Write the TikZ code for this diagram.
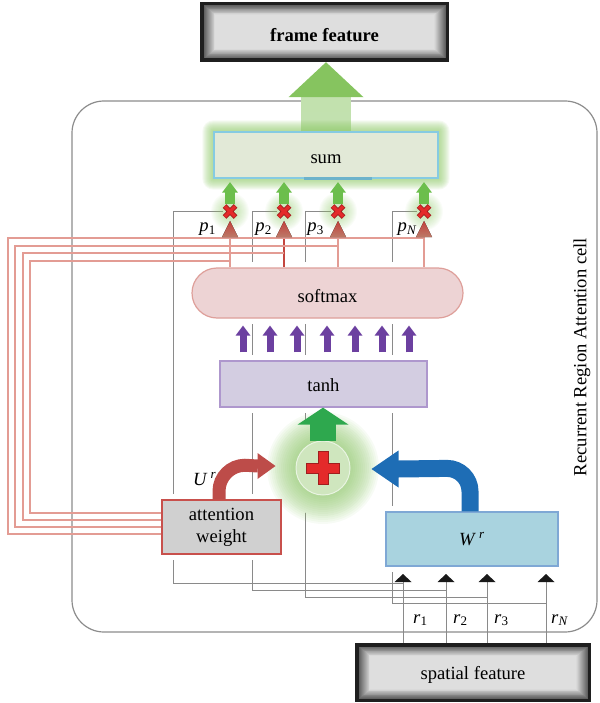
\documentclass[tikz,border=0pt]{standalone}
\usepackage{fontspec}
\setmainfont{Liberation Serif}
\usetikzlibrary{calc}

\pgfdeclarelayer{lines}
\pgfdeclarelayer{halo}
\pgfdeclarelayer{glow}
\pgfsetlayers{lines,halo,glow,main}

\definecolor{cellgray}{HTML}{8C8C8C}
\definecolor{linegray}{HTML}{8A8A8A}
\definecolor{pinkc}{HTML}{E39C94}
\definecolor{pinkdark}{HTML}{C4463F}
\definecolor{sumfill}{HTML}{E2E9D7}
\definecolor{sumedge}{HTML}{86CBE2}
\definecolor{sumstub}{HTML}{6DB3CB}
\definecolor{glowgreen}{HTML}{8CC865}
\definecolor{softfill}{HTML}{EDD3D4}
\definecolor{softedge}{HTML}{DE9F9A}
\definecolor{tanhfill}{HTML}{D3CDE1}
\definecolor{tanhedge}{HTML}{AE97CD}
\definecolor{violetarr}{HTML}{6C40A0}
\definecolor{addgreen}{HTML}{2EA84E}
\definecolor{headgreen}{HTML}{86C45F}
\definecolor{smallgreen}{HTML}{6CBE4C}
\definecolor{crossred}{HTML}{E42A2A}
\definecolor{crossdark}{HTML}{A01E1E}
\definecolor{uarrowc}{HTML}{BD4C49}
\definecolor{warrowc}{HTML}{1E6DB5}
\definecolor{wfill}{HTML}{A9D3DF}
\definecolor{wedge}{HTML}{7FA8D5}
\definecolor{awfill}{HTML}{D0D0D0}
\definecolor{awedge}{HTML}{C8504C}
\definecolor{plusfill}{HTML}{CFE6BE}
\definecolor{tritop}{HTML}{C2403B}
\definecolor{tribot}{HTML}{BC7A68}

% metallic button: dark rim, graded bevel, light inner panel
\newcommand\bevelpanel[4]{%
  \fill[black!88] (#1,#2) rectangle (#3,#4);
  \foreach \k in {0,...,10}{%
    \pgfmathsetmacro\gv{62-4.4*\k}%
    \fill[black!\gv] ({#1+3.5+\k},{#2+3.5+0.8*\k}) rectangle ({#3-3.5-\k},{#4-3.5-0.8*\k});
  }%
  \fill[black!13] ({#1+14.5},{#2+12.5}) rectangle ({#3-14.5},{#4-12.5});
  \draw[white!85!black, line width=0.8pt] ({#1+14.5},{#2+12.5}) rectangle ({#3-14.5},{#4-12.5});
}
% text placed with its baseline a given distance below the node centre
\newcommand\lowtext[2]{\raisebox{-#1}[0pt][0pt]{#2}}

\tikzset{
  txt/.style={font=\fontsize{18.6}{22}\selectfont, inner sep=0pt},
  panelbox/.style={txt, draw, line width=1.2pt},
  sumbox/.style={panelbox, draw=sumedge, fill=sumfill, line width=1.3pt, minimum width=224pt, minimum height=46pt},
  softbox/.style={panelbox, draw=softedge, fill=softfill, rounded corners=25pt, minimum width=271pt, minimum height=50pt},
  tanhbox/.style={panelbox, draw=tanhedge, fill=tanhfill, minimum width=207pt, minimum height=46pt},
  awbox/.style={panelbox, draw=awedge, fill=awfill, line width=1.5pt, minimum width=119pt, minimum height=54pt, align=center},
  wbox/.style={panelbox, draw=wedge, fill=wfill, minimum width=172pt, minimum height=54pt},
  plusnode/.style={circle, fill=plusfill, draw=white!55!plusfill, line width=1pt, minimum size=54pt, inner sep=0pt},
  multnode/.style={circle, minimum size=14pt, inner sep=0pt},
  grayline/.style={draw=linegray, line width=1pt},
  cellline/.style={draw=cellgray, line width=1.2pt},
  pinkline/.style={draw=pinkc, line width=1.1pt},
  sublabel/.style={txt},
}

\begin{document}
\begin{tikzpicture}[x=1pt,y=-1pt]
\useasboundingbox (0,0) rectangle (599,703);

% ---------- buttons outside the cell
\bevelpanel{200}{2}{449}{62}
\node[txt, font=\fontsize{18.6}{22}\selectfont\bfseries, minimum width=249pt, minimum height=60pt] (frame) at (324.5,32) {\lowtext{9.5pt}{frame feature}};
\bevelpanel{355}{643}{591}{702}
\node[txt, minimum width=236pt, minimum height=59pt] (spatial) at (473,672.5) {\lowtext{7pt}{spatial feature}};

% ---------- blocks of the cell
\node[sumbox] (sum) at (326,155) {\lowtext{9pt}{sum}};
\node[softbox] (softmax) at (327.5,293) {\lowtext{9.5pt}{softmax}};
\node[tanhbox] (tanh) at (323.5,384) {\lowtext{7.5pt}{tanh}};
\node[plusnode] (plus) at (323,468) {};
\node[awbox] (attw) at (221.5,527) {attention\\weight};
\node[wbox] (wr) at (472,539) {\textit{W}\,\textsuperscript{\textit{r}}};
\node[txt, rotate=90] (celltitle) at (582,357) {Recurrent Region Attention cell};

% column positions
\foreach \i/\x in {1/230,2/284,3/338,4/424}{%
  \node[multnode] (m\i) at (\x,211.5) {};
  \coordinate (pcol\i) at (\x,0);
  \coordinate (tt\i) at (\x,221);
  \coordinate (tb\i) at (\x,237);
}
\foreach \i/\x in {1/173,2/252,3/305,4/392}{\coordinate (gcol\i) at (\x,0);}
\foreach \i/\x in {1/403,2/446,3/487,4/546}{\coordinate (rcol\i) at (\x,0);}
\foreach \i/\y in {1/583,2/590,3/597,4/603}{\coordinate (lev\i) at (0,\y);}
\coordinate (rtop) at (0,574);

% ---------- background wiring
\begin{pgfonlayer}{lines}
  \draw[cellline, rounded corners=32pt] (72,101) rectangle (597,632);
  \foreach \i in {1,...,4}{%
    \draw[grayline] (m\i.west) -| (gcol\i |- lev\i) -- (rcol\i |- lev\i);
  }
\end{pgfonlayer}

% white gaps where wires pass behind blocks
\begin{pgfonlayer}{halo}
  \foreach \n in {softmax,tanh,attw,wr}{%
    \fill[white] ($(\n.south west)+(-5,5)$) rectangle ($(\n.north east)+(5,-5)$);
  }
  \fill[white] (plus) circle (48pt);
\end{pgfonlayer}

% soft green glows
\begin{pgfonlayer}{glow}
  \foreach \k in {1,...,11}{%
    \fill[glowgreen, opacity=0.085, rounded corners=\k pt] ($(sum.south west)+(-\k,\k)$) rectangle ($(sum.north east)+(\k,-\k)$);
  }
  \foreach \r in {28,30,...,56}{\fill[glowgreen, opacity=0.065] (plus) circle (\r pt);}
  \foreach \i in {1,...,4}{%
    \foreach \r in {8,...,19}{\fill[glowgreen, opacity=0.045] (m\i) circle (\r pt);}
  }
\end{pgfonlayer}

% ---------- sum -> frame feature
\coordinate (bigtip) at (sum.north |- frame.south);
\draw[white, line width=50pt] ($(bigtip)+(0,35)$) -- ($(bigtip)+(0,50)$);
\draw[headgreen, opacity=0.5, line width=50pt] (sum.north) -- ($(bigtip)+(0,35)$);
\fill[headgreen] (bigtip) -- ($(bigtip)+(37.5,35)$) -- ($(bigtip)+(-37.5,35)$) -- cycle;
\draw[sumstub, line width=2.4pt] ($(sum.south)+(-22,0)$) -- ($(sum.south)+(46,0)$);

% ---------- weighting units p_i * r_i
\foreach \i in {1,...,4}{%
  \coordinate (gt\i) at ($(m\i.north |- sum.south)+(0,3.5)$);
  \draw[smallgreen, line width=9.5pt] (m\i.north) -- ($(gt\i)+(0,10.1)$);
  \fill[smallgreen] (gt\i) -- ($(gt\i)+(8,10.5)$) -- ($(gt\i)+(-8,10.5)$) -- cycle;
  \draw[crossdark, line width=5pt] ($(m\i)+(-5.5,-5.5)$) -- ($(m\i)+(5.5,5.5)$) ($(m\i)+(-5.5,5.5)$) -- ($(m\i)+(5.5,-5.5)$);
  \draw[crossred, line width=3.4pt] ($(m\i)+(-5.2,-5.2)$) -- ($(m\i)+(5.2,5.2)$) ($(m\i)+(-5.2,5.2)$) -- ($(m\i)+(5.2,-5.2)$);
}

% softmax outputs into the weighting units
\foreach \i in {1,3,4}{\draw[pinkline] (tb\i) -- (tb\i |- softmax.north);}
\draw[pinkdark, line width=1.6pt] (tb2) -- (tb2 |- softmax.north);
\foreach \i/\dy/\lx/\ty in {1/14/30/261, 2/7/23/253, 3/0/15/246, 4/-7/8/238}{%
  \coordinate (pl\i) at (\lx,\ty);
  \draw[pinkline] ([yshift=\dy pt]attw.west) -| (pl\i) -- (pcol\i |- pl\i);
}
\foreach \i in {1,...,4}{%
  \fill[top color=tritop, bottom color=tribot] (tt\i) -- ($(tb\i)+(8,0)$) -- ($(tb\i)+(-8,0)$) -- cycle;
}
\node[sublabel, anchor=base east] (lp1) at (216,232) {\textit{p}\textsubscript{1}};
\node[sublabel, anchor=base east] (lp2) at (272,232) {\textit{p}\textsubscript{2}};
\node[sublabel, anchor=base east] (lp3) at (324,232) {\textit{p}\textsubscript{3}};
\node[sublabel, anchor=base east] (lp4) at (417,232) {\textit{p}\textsubscript{\textit{N}}};

% ---------- tanh -> softmax
\foreach \x in {243,270,297,327,355,382,409}{%
  \coordinate (vc\x) at (\x,0);
  \coordinate (vt\x) at ($(vc\x |- softmax.south)+(0,7)$);
  \draw[violetarr, line width=7pt] ($(vc\x |- tanh.north)+(0,-8)$) -- ($(vt\x)+(0,9.6)$);
  \fill[violetarr] (vt\x) -- ($(vt\x)+(7.5,10)$) -- ($(vt\x)+(-7.5,10)$) -- cycle;
}

% ---------- adder -> tanh
\coordinate (addtip) at (plus.north |- tanh.south);
\draw[addgreen, line width=26pt] (plus.north) -- ($(addtip)+(0,16.6)$);
\fill[addgreen] (addtip) -- ($(addtip)+(25.5,17)$) -- ($(addtip)+(-25.5,17)$) -- cycle;
\fill[crossred, draw=crossdark, line width=0.6pt, shift={(plus)}]
  (-5,-16.5) -- (5,-16.5) -- (5,-5) -- (16.5,-5) -- (16.5,5) -- (5,5) -- (5,16.5)
  -- (-5,16.5) -- (-5,5) -- (-16.5,5) -- (-16.5,-5) -- (-5,-5) -- cycle;

% ---------- U^r : attention weight -> adder
\coordinate (utip) at ([xshift=-20pt,yshift=2pt]plus.west);
\draw[uarrowc, line width=13pt] ([xshift=-2.5pt]attw.north) -- ++(0,-8)
  arc[start angle=180, end angle=270, radius=26] -- ($(utip)+(-17.6,0)$);
\fill[uarrowc] (utip) -- ($(utip)+(-18,-13)$) -- ($(utip)+(-18,13)$) -- cycle;
\node[txt, anchor=base west] (ulab) at (193,485) {\textit{U}\,\textsuperscript{\textit{r}}};

% ---------- W^r -> adder
\coordinate (wtip) at ([xshift=21pt,yshift=-1pt]plus.east);
\draw[warrowc, line width=17pt] ([xshift=-2pt]wr.north) -- ++(0,-20)
  arc[start angle=0, end angle=-90, radius=23] -- ($(wtip)+(26.6,0)$);
\fill[warrowc] (wtip) -- ($(wtip)+(27,-18.5)$) -- ($(wtip)+(27,18.5)$) -- cycle;

% ---------- spatial feature -> W^r
\foreach \i in {1,...,4}{%
  \coordinate (rt\i) at (rcol\i |- rtop);
  \draw[grayline] (rcol\i |- spatial.north) -- ($(rt\i)+(0,7)$);
  \fill[black!90] (rt\i) -- ($(rt\i)+(8.5,8)$) -- ($(rt\i)+(-8.5,8)$) -- cycle;
}
\node[sublabel, anchor=base west] (lr1) at (413,623) {\textit{r}\textsubscript{1}};
\node[sublabel, anchor=base west] (lr2) at (453,623) {\textit{r}\textsubscript{2}};
\node[sublabel, anchor=base west] (lr3) at (494,623) {\textit{r}\textsubscript{3}};
\node[sublabel, anchor=base west] (lr4) at (551,623) {\textit{r}\textsubscript{\textit{N}}};

\end{tikzpicture}
\end{document}
